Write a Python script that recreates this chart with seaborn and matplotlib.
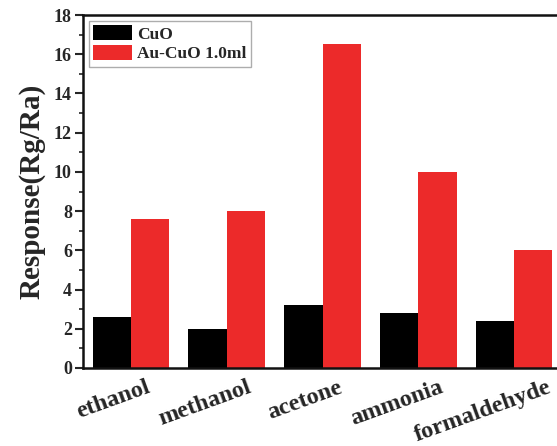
import matplotlib
matplotlib.use("Agg")
import matplotlib.pyplot as plt
import matplotlib.transforms as mtransforms
import seaborn as sns
import pandas as pd
from matplotlib.ticker import MultipleLocator

categories = ["ethanol", "methanol", "acetone", "ammonia", "formaldehyde"]
series_names = ["CuO", "Au-CuO 1.0ml"]
cuo_values = [2.6, 2.0, 3.2, 2.8, 2.4]
aucuo_values = [7.6, 8.0, 16.5, 10.0, 6.0]
y_ticks = [0, 2, 4, 6, 8, 10, 12, 14, 16, 18]

df = pd.DataFrame({
    "gas": categories * 2,
    "sample": [series_names[0]] * len(categories) + [series_names[1]] * len(categories),
    "response": cuo_values + aucuo_values,
})

sns.set_theme(style="white")
plt.rcParams["font.family"] = ["Liberation Serif", "DejaVu Serif"]
plt.rcParams["font.weight"] = "bold"

fig = plt.figure(figsize=(5.57, 4.46), dpi=100)
ax = fig.add_axes([83 / 557, 1 - 368 / 446, (562 - 83) / 557, (368 - 15) / 446])

sns.barplot(data=df, x="gas", y="response", hue="sample", order=categories,
            hue_order=series_names, palette=["#000000", "#EC2A2A"],
            saturation=1, width=0.8, linewidth=0, ax=ax, errorbar=None)

ax.set_ylim(0, 18)
ax.set_xlim(-0.5, 4.5)
ax.set_yticks(y_ticks)
ax.yaxis.set_minor_locator(MultipleLocator(1))
ax.tick_params(axis="y", which="major", direction="out", length=6, width=1.5,
               left=True, labelsize=13, pad=2)
ax.tick_params(axis="y", which="minor", direction="out", length=3, width=1.2, left=True)
ax.tick_params(axis="x", bottom=False, labelsize=17.5, pad=0.5)
for lbl in ax.get_yticklabels():
    lbl.set_fontweight("bold")

ax.set_xlabel("")
ax.set_ylabel("Response(Rg/Ra)", fontsize=21, fontweight="bold", labelpad=6)

for side in ["left", "bottom", "top"]:
    ax.spines[side].set_visible(True)
    ax.spines[side].set_color("#111111")
    ax.spines[side].set_linewidth(1.8)
ax.spines["right"].set_visible(False)

leg = ax.legend(loc="upper left", bbox_to_anchor=(0.0, 1.0), frameon=True,
                fancybox=False, edgecolor="#999999", fontsize=12.5,
                handlelength=2.25, handleheight=0.9, borderpad=0.25,
                labelspacing=0.15, handletextpad=0.25, borderaxespad=0.35)
leg.get_frame().set_linewidth(1.0)
for t in leg.get_texts():
    t.set_fontweight("bold")

# rotated x labels, shifted left in proportion to their width
xlabels = ax.get_xticklabels()
for lbl in xlabels:
    lbl.set_fontweight("bold")
    lbl.set_rotation(20)
    lbl.set_ha("center")
fig.canvas.draw()
renderer = fig.canvas.get_renderer()
for lbl in xlabels:
    w = lbl.get_window_extent(renderer).width
    shift = mtransforms.ScaledTranslation(-0.22 * w / fig.dpi, 0, fig.dpi_scale_trans)
    lbl.set_transform(lbl.get_transform() + shift)

fig.savefig("out.png", dpi=100)
